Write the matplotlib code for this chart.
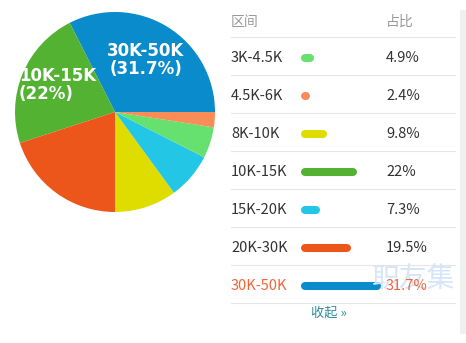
import matplotlib.pyplot as plt

plt.rcParams['font.family'] = ['Noto Sans CJK SC', 'DejaVu Sans']

# pie order (counterclockwise from 3 o'clock)
pie_labels = ["30K-50K", "10K-15K", "20K-30K", "8K-10K", "15K-20K", "3K-4.5K", "4.5K-6K"]
pie_values = [31.7, 22, 19.5, 9.8, 7.3, 4.9, 2.4]
pie_colors = ["#0a8bcb", "#53b232", "#ec561b", "#dfdd00", "#23c6e5", "#66e06e", "#fa8c58"]

# table order
rows = ["3K-4.5K", "4.5K-6K", "8K-10K", "10K-15K", "15K-20K", "20K-30K", "30K-50K"]
shares = [4.9, 2.4, 9.8, 22, 7.3, 19.5, 31.7]
share_text = ["4.9%", "2.4%", "9.8%", "22%", "7.3%", "19.5%", "31.7%"]
row_colors = ["#66e06e", "#fa8c58", "#dfdd00", "#53b232", "#23c6e5", "#ec561b", "#0a8bcb"]

W, H = 466, 343
fig = plt.figure(figsize=(W / 100, H / 100), dpi=100)

# table layer in pixel coordinates
ax = fig.add_axes([0, 0, 1, 1])
ax.set_xlim(0, W)
ax.set_ylim(H, 0)
ax.axis('off')

# pie
pax = fig.add_axes([15 / W, (H - 212) / H, 200 / W, 200 / H])
pax.pie(pie_values, colors=pie_colors, startangle=0, counterclock=True,
        wedgeprops=dict(linewidth=0))
pax.set_xlim(-1, 1)
pax.set_ylim(-1, 1)
pax.set_aspect('equal')
pax.text(0.31, 0.52, "30K-50K\n(31.7%)", color="white", fontsize=12, fontweight="bold",
         family="DejaVu Sans", ha="center", va="center", linespacing=1.0)
pax.text(-0.96, 0.27, "10K-15K\n(22%)", color="white", fontsize=12, fontweight="bold",
         family="DejaVu Sans", ha="left", va="center", linespacing=1.0)

# header
ax.text(231, 22, "区间", color="#999999", fontsize=10, va="center", ha="left")
ax.text(386, 22, "占比", color="#999999", fontsize=10, va="center", ha="left")

row_h = 38
for i in range(len(rows) + 1):
    y = 37 + i * row_h
    ax.plot([231, 455], [y, y], color="#e6e6e6", lw=0.8)

# watermark (behind the last row)
ax.text(414, 280, "职友集", color="#d6e5f7", fontsize=20, va="center", ha="center")

px_per_pct = 2.5
for i, (name, v, t, c) in enumerate(zip(rows, shares, share_text, row_colors)):
    y = 58 + i * row_h
    txt_color = "#f0663a" if name == "30K-50K" else "#333333"
    ax.text(231, y, name, color=txt_color, fontsize=10.5, va="center", ha="left")
    x0 = 305
    x1 = max(x0 + 1, 302 + v * px_per_pct - 4)
    ax.plot([x0, x1], [y, y], color=c, lw=5.8, solid_capstyle="round")
    ax.text(386, y, t, color=txt_color, fontsize=10.5, va="center", ha="left")

# collapse link
ax.text(311, 313, "收起 »", color="#2a8c9c", fontsize=9.5, va="center", ha="left")

# right border
ax.fill_between([460, 466], 10, 334, color="#f0f0f0", lw=0)

fig.savefig("out.png", dpi=100)
